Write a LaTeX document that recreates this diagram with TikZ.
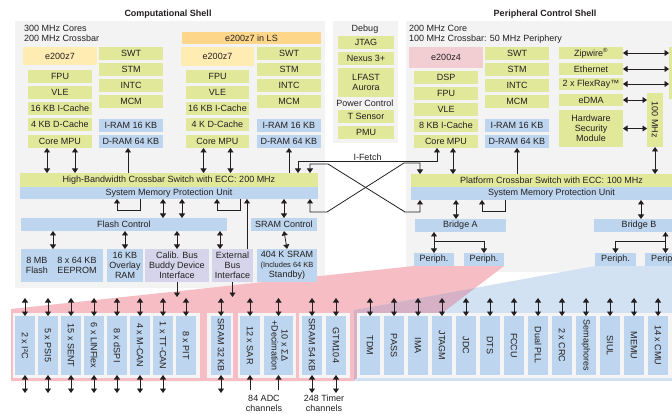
\documentclass[tikz,border=0pt]{standalone}
\usepackage{fontspec}
\setmainfont{Liberation Sans}
\usetikzlibrary{arrows.meta}

\definecolor{ink}{RGB}{35,31,32}
\definecolor{grn}{RGB}{225,232,153}
\definecolor{blu}{RGB}{189,213,238}
\definecolor{lav}{RGB}{214,212,234}
\definecolor{ylw}{RGB}{255,236,179}
\definecolor{org}{RGB}{253,214,137}
\definecolor{rse}{RGB}{242,206,211}
\definecolor{panel}{RGB}{243,243,243}
\definecolor{gpanel}{RGB}{245,245,245}
\definecolor{wpink}{RGB}{246,189,196}
\definecolor{wblue}{RGB}{211,226,243}
\definecolor{wmix}{RGB}{214,176,196}

\newcommand{\boxfont}{\fontsize{9}{10}\selectfont}
\newcommand{\smallboxfont}{\fontsize{7.5}{9}\selectfont}

\tikzset{
  box/.style={inner sep=0pt, outer sep=0pt, anchor=north west, align=center, font=\boxfont, text=ink},
  gbox/.style={box, fill=grn},
  bbox/.style={box, fill=blu},
  lbox/.style={box, fill=lav},
  ybox/.style={box, fill=ylw},
  wh/.style 2 args={minimum width=#1pt, minimum height=#2pt},
  mbox/.style={bbox, wh={20}{59}},
  ttl/.style={font=\boxfont\bfseries, text=ink, inner sep=0pt},
  lbl/.style={font=\boxfont, text=ink, inner sep=0pt, align=center},
  tip/.tip={Triangle[length=4.5pt,width=6pt]},
  dbl/.style={draw=ink, line width=0.8pt, tip-tip},
  sgl/.style={draw=ink, line width=0.8pt, -tip},
}

\begin{document}
\begin{tikzpicture}[x=1pt, y=-1pt]
  \useasboundingbox (0,0) rectangle (672,414);
  \clip (0,0) rectangle (672,414);
  \fill[white] (0,0) rectangle (672,414);

  % shells
  \fill[panel] (15,21) rectangle (325,288);
  \fill[panel] (333,21) rectangle (398,143);
  \fill[panel] (406,21) rectangle (700,272);
  \node[ttl] (cstitle) at (168,14) {Computational Shell};
  \node[ttl] (pstitle) at (545,14) {Peripheral Control Shell};

  % fan-out to the peripheral rows
  \fill[wpink] (11,381) -- (11,309) -- (414,266) -- (504,266) -- (353,381) -- cycle;
  \fill[wblue] (354,381) -- (354,310) -- (595,266) -- (700,266) -- (700,381) -- cycle;
  \begin{scope}
    \clip (11,381) -- (11,309) -- (414,266) -- (504,266) -- (353,381) -- cycle;
    \fill[wmix] (354,381) -- (354,310) -- (595,266) -- (700,266) -- (700,381) -- cycle;
  \end{scope}
  \fill[gpanel] (13,313) rectangle (200,378);
  \fill[gpanel] (207,313) rectangle (233,378);
  \fill[gpanel] (238,313) rectangle (296,378);
  \fill[gpanel] (299,313) rectangle (350,378);
  \fill[gpanel] (357,313) rectangle (700,378);

  % computational shell, core 1
  \node[box, align=left] (csfreq) at (24,25) {300 MHz Cores\\200 MHz Crossbar};
  \node[ybox, wh={74}{18}] (z7a) at (23,47) {e200z7};
  \node[gbox, wh={64}{13}] (fpu1) at (28,70) {FPU};
  \node[gbox, wh={64}{13}] (vle1) at (28,86) {VLE};
  \node[gbox, wh={64}{13}] (ic1) at (28,102) {16 KB I-Cache};
  \node[gbox, wh={64}{13}] (dc1) at (28,118) {4 KB D-Cache};
  \node[gbox, wh={64}{13}] (mpu1) at (28,135) {Core MPU};
  \node[gbox, wh={64}{13}] (swt1) at (99,47) {SWT};
  \node[gbox, wh={64}{13}] (stm1) at (99,63) {STM};
  \node[gbox, wh={64}{13}] (intc1) at (99,79) {INTC};
  \node[gbox, wh={64}{13}] (mcm1) at (99,95) {MCM};
  \node[bbox, wh={64}{13}] (iram1) at (99,119) {I-RAM 16 KB};
  \node[bbox, wh={64}{13}] (dram1) at (99,135) {D-RAM 64 KB};

  % computational shell, core 2
  \node[box, fill=org, wh={139}{12}] (ls) at (182,32) {e200z7 in LS};
  \node[ybox, wh={73}{19}] (z7b) at (181,47) {e200z7};
  \node[gbox, wh={63}{13}] (fpu2) at (186,70) {FPU};
  \node[gbox, wh={63}{13}] (vle2) at (186,86) {VLE};
  \node[gbox, wh={63}{13}] (ic2) at (186,102) {16 KB I-Cache};
  \node[gbox, wh={63}{13}] (dc2) at (186,118) {4 K D-Cache};
  \node[gbox, wh={63}{13}] (mpu2) at (186,135) {Core MPU};
  \node[gbox, wh={64}{13}] (swt2) at (257,47) {SWT};
  \node[gbox, wh={64}{13}] (stm2) at (257,63) {STM};
  \node[gbox, wh={64}{13}] (intc2) at (257,79) {INTC};
  \node[gbox, wh={64}{13}] (mcm2) at (257,95) {MCM};
  \node[bbox, wh={64}{13}] (iram2) at (257,119) {I-RAM 16 KB};
  \node[bbox, wh={64}{13}] (dram2) at (257,135) {D-RAM 64 KB};

  % computational shell, crossbar and memories
  \node[gbox, wh={298}{14}] (hbx) at (20,173) {High-Bandwidth Crossbar Switch with ECC: 200 MHz};
  \node[bbox, wh={298}{12}] (smpu1) at (20,187) {System Memory Protection Unit};
  \node[bbox, wh={206}{13}] (flc) at (21,218) {Flash Control};
  \node[bbox, wh={66}{13}] (src) at (251,218) {SRAM Control};
  \node[bbox, wh={82}{33}] (flash) at (21,249) {};
  \node[lbl] (flashmb) at (37,265.5) {8 MB\\Flash};
  \node[lbl] (eeprom) at (77,265.5) {8 x 64 KB\\EEPROM};
  \node[bbox, wh={36}{33}] (ovl) at (107,249) {16 KB\\Overlay\\RAM};
  \node[lbox, wh={64}{33}] (cbb) at (145,249) {Calib. Bus\\Buddy Device\\Interface};
  \node[lbox, wh={41}{33}] (ebi) at (212,249) {External\\Bus\\Interface};
  \node[bbox, wh={60}{33}] (sram) at (257,249) {404 K SRAM\\\smallboxfont (Includes 64 KB\\Standby)};

  % debug
  \node[lbl] (dbg) at (365,29) {Debug};
  \node[gbox, wh={56}{13}] (jtag) at (338,36) {JTAG};
  \node[gbox, wh={56}{13}] (nexus) at (338,52) {Nexus 3+};
  \node[gbox, wh={56}{29}] (lfast) at (338,68) {LFAST\\Aurora};
  \node[lbl] (pwr) at (365,103) {Power Control};
  \node[gbox, wh={56}{13}] (tsens) at (338,110) {T Sensor};
  \node[gbox, wh={56}{13}] (pmu) at (338,126) {PMU};

  % peripheral control shell
  \node[box, align=left] (psfreq) at (409,25) {200 MHz Core\\100 MHz Crossbar: 50 MHz Periphery};
  \node[box, fill=rse, wh={74}{21}] (z4) at (409,47) {e200z4};
  \node[gbox, wh={64}{13}] (dsp) at (414,71) {DSP};
  \node[gbox, wh={64}{13}] (fpu3) at (414,87) {FPU};
  \node[gbox, wh={64}{13}] (vle3) at (414,103) {VLE};
  \node[gbox, wh={64}{13}] (ic3) at (414,119) {8 KB I-Cache};
  \node[gbox, wh={64}{13}] (mpu3) at (414,135) {Core MPU};
  \node[gbox, wh={64}{13}] (swt3) at (485,47) {SWT};
  \node[gbox, wh={64}{13}] (stm3) at (485,63) {STM};
  \node[gbox, wh={64}{13}] (intc3) at (485,79) {INTC};
  \node[gbox, wh={64}{13}] (mcm3) at (485,95) {MCM};
  \node[bbox, wh={64}{13}] (iram3) at (485,119) {I-RAM 16 KB};
  \node[bbox, wh={64}{13}] (dram3) at (485,135) {D-RAM 64 KB};
  \node[gbox, wh={64}{12}] (zip) at (559,47) {Zipwire\textsuperscript{®}};
  \node[gbox, wh={64}{12}] (eth) at (559,63) {Ethernet};
  \node[gbox, wh={64}{12}] (flex) at (559,78) {2 x FlexRay™};
  \node[gbox, wh={64}{12}] (edma) at (559,94) {eDMA};
  \node[gbox, wh={64}{37}] (hsm) at (559,110) {Hardware\\Security\\Module};
  \node[gbox, wh={16}{54}] (mhz) at (647,93) {\rotatebox{-90}{100 MHz}};
  \node[gbox, wh={20}{52}] (xbox) at (669,47) {};
  \node[gbox, wh={281}{13}] (pbx) at (411,174) {Platform Crossbar Switch with ECC: 100 MHz};
  \node[bbox, wh={281}{13}] (smpu3) at (411,187) {System Memory Protection Unit};
  \node[bbox, wh={91}{13}] (brA) at (415,219) {Bridge A};
  \node[bbox, wh={90}{13}] (brB) at (594,219) {Bridge B};
  \node[bbox, wh={40}{13}] (pA1) at (414,253) {Periph.};
  \node[bbox, wh={40}{13}] (pA2) at (464,253) {Periph.};
  \node[bbox, wh={41}{13}] (pB1) at (595,253) {Periph.};
  \node[bbox, wh={41}{13}] (pB2) at (645,253) {Periph.};

  % peripheral rows
  \foreach \t [count=\i from 0] in {2 x I²C, 5 x PSI5, 15 x SENT, 6 x LINFlex, 8 x dSPI, 4 x M-CAN, 1 x TT-CAN, 8 x PIT}
    \node[mbox] (g\i) at (15+23*\i,316) {\rotatebox{-90}{\t}};
  \node[mbox] (sr32) at (211,316) {\rotatebox{-90}{SRAM 32 KB}};
  \node[mbox] (sar) at (240,316) {\rotatebox{-90}{12 x SAR}};
  \node[bbox, wh={29}{59}] (sdm) at (264,316) {\rotatebox{-90}{\begin{tabular}{@{}c@{}}10 x ΣΔ\\+Decimation\end{tabular}}};
  \node[mbox] (sr54) at (302,316) {\rotatebox{-90}{SRAM 54 KB}};
  \node[mbox] (gtm) at (326,316) {\rotatebox{-90}{GTM104}};
  \foreach \t [count=\i from 0] in {TDM, PASS, IMA, JTAGM, JDC, DTS, FCCU, Dual PLL, 2 x CRC, Semaphores, SIUL, MEMU, 14 x CMU}
    \node[mbox] (s\i) at (360+24*\i,316) {\rotatebox{-90}{\t}};
  \node[lbl] (adc) at (264,403) {84 ADC\\channels};
  \node[lbl] (tmr) at (324,403) {248 Timer\\channels};

  % cores to crossbars
  \draw[dbl] ([xshift=-13pt]mpu1.south) -- ([xshift=-13pt]mpu1.south |- hbx.north);
  \draw[dbl] ([xshift=15pt]mpu1.south) -- ([xshift=15pt]mpu1.south |- hbx.north);
  \draw[sgl] ([xshift=-3pt]dram1.south |- hbx.north) -- ([xshift=-3pt]dram1.south);
  \draw[dbl] ([xshift=-14pt]mpu2.south) -- ([xshift=-14pt]mpu2.south |- hbx.north);
  \draw[dbl] ([xshift=13pt]mpu2.south) -- ([xshift=13pt]mpu2.south |- hbx.north);
  \draw[sgl] (dram2.south |- hbx.north) -- (dram2.south);
  \draw[dbl] ([xshift=7pt]mpu3.south) -- ([xshift=7pt]mpu3.south |- pbx.north);
  \draw[sgl] (dram3.south |- pbx.north) -- (dram3.south);
  \draw[dbl] (mhz.south) -- (mhz.south |- pbx.north);

  % I-Fetch and the crossed links
  \draw[dbl] ([xshift=-20pt]hbx.north east) -- ++(0,-12)
    -| node[pos=0.25, above=0pt, lbl] (ifetch) {I-Fetch} ([xshift=-9pt]mpu3.south);
  \draw[dbl] ([xshift=-8pt]hbx.north east) -- ++(0,-9) -- ++(18,0) -- ++(77,48)
    -| ([xshift=9pt]smpu3.south west);
  \draw[dbl] ([xshift=-8pt]smpu1.south east) -- ++(0,13) -- ++(17,0) -- ++(77,-49)
    -| ([xshift=9pt]pbx.north west);

  % peripheral control shell links
  \draw[dbl] (zip.east) -- (zip.east -| xbox.west);
  \draw[dbl] (eth.east) -- (eth.east -| xbox.west);
  \draw[dbl] (flex.east) -- (flex.east -| xbox.west);
  \draw[dbl] (edma.east) -- (edma.east -| mhz.west);
  \draw[dbl] (hsm.east) -- (hsm.east -| mhz.west);

  % below the computational crossbar
  \draw[sgl] ([xshift=120pt]smpu1.south west) -- ++(0,11) -| ([xshift=97pt]smpu1.south west);
  \draw[sgl] ([xshift=220pt]smpu1.south west) -- ++(0,11) -| ([xshift=197pt]smpu1.south west);
  \draw[dbl] ([xshift=142pt]flc.north west) -- ([xshift=142pt]flc.north west |- smpu1.south);
  \draw[dbl] ([xshift=161pt]flc.north west) -- ([xshift=161pt]flc.north west |- smpu1.south);
  \draw[dbl] (src.north) -- (src.north |- smpu1.south);
  \draw[sgl] ([xshift=-6pt]ebi.north east) -- ([xshift=-6pt]ebi.north east |- smpu1.south);
  \draw[dbl] ([xshift=32pt]flash.north west) -- ([xshift=32pt]flash.north west |- flc.south);
  \draw[dbl] (ovl.north) -- (ovl.north |- flc.south);
  \draw[dbl] (cbb.north) -- (cbb.north |- flc.south);
  \draw[dbl] ([xshift=8pt]ebi.north west) -- ([xshift=8pt]ebi.north west |- flc.south);
  \draw[dbl] (sram.north) -- (src.south);
  \draw[sgl] (cbb.south) -- ++(0,15) coordinate (cbbout);
  \draw[sgl] (ebi.south) -- ++(0,15) coordinate (ebiout);

  % below the platform crossbar
  \draw[sgl] ([xshift=94pt]smpu3.south west) -- ++(0,11) -| ([xshift=71pt]smpu3.south west);
  \draw[dbl] ([xshift=41pt]brA.north west) -- ([xshift=41pt]brA.north west |- smpu3.south);
  \draw[dbl] ([xshift=47pt]brB.north west) -- ([xshift=47pt]brB.north west |- smpu3.south);
  \draw[dbl] (pA1.north |- brA.south) -- (pA1.north);
  \draw[sgl] ([yshift=12pt]pA1.north) -| (pA2.north);
  \draw[dbl] (pB2.north |- brB.south) -- (pB2.north);
  \draw[sgl] ([yshift=12pt]pB2.north) -| (pB1.north);

  % peripheral row arrows
  \foreach \m in {g0,g1,g2,g3,g4,g5,g6,g7,sr32,sar,sdm,sr54,gtm,s0,s1,s2,s3,s4,s5,s6,s7,s8,s9,s10,s11,s12}
    \draw[dbl] (\m.north) -- ++(0,-18);
  \foreach \m in {g0,g1,g2,g3,g4,g5,g6,sr32,sr54,gtm}
    \draw[dbl] (\m.south) -- ++(0,18);
  \draw[sgl] ([yshift=-15pt]sar.south) -- (sar.south);
  \draw[sgl] ([yshift=-15pt]sdm.south) -- (sdm.south);
\end{tikzpicture}
\end{document}
